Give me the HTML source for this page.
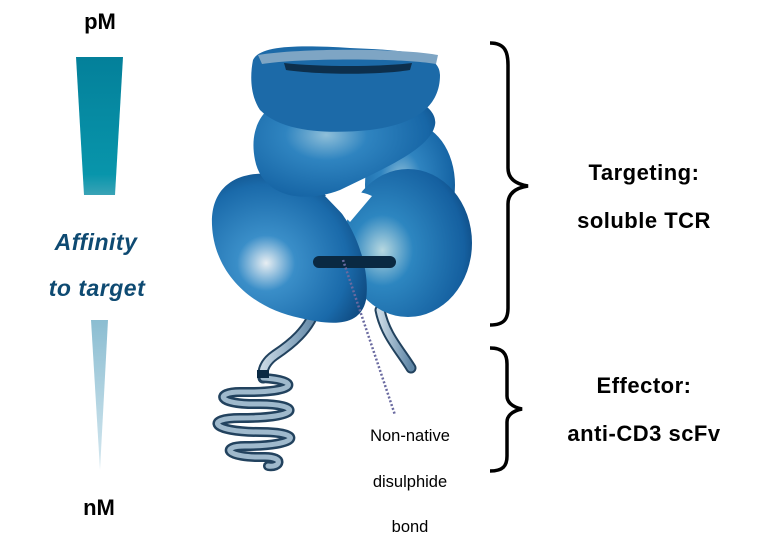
<!DOCTYPE html>
<html><head><style>
body{margin:0;background:#fff;}
svg{display:block}
text{font-family:"Liberation Sans",sans-serif}
</style></head><body>
<svg width="776" height="552" viewBox="0 0 776 552" xmlns="http://www.w3.org/2000/svg">
<defs>
<linearGradient id="w1" x1="0" y1="0" x2="0" y2="1">
<stop offset="0" stop-color="#04809a"/><stop offset="0.85" stop-color="#0895ab"/><stop offset="1" stop-color="#3aa3b6"/></linearGradient>
<linearGradient id="w2" x1="0" y1="0" x2="0" y2="1">
<stop offset="0" stop-color="#8bbdd1"/><stop offset="1" stop-color="#d5e8f0"/></linearGradient>
<radialGradient id="lob" cx="0.35" cy="0.6" r="0.75">
<stop offset="0" stop-color="#e8eef2"/><stop offset="0.25" stop-color="#3a8ec8"/><stop offset="0.7" stop-color="#1a6aaa"/><stop offset="1" stop-color="#0b3f72"/></radialGradient>
<radialGradient id="lob2" cx="0.4" cy="0.45" r="0.75">
<stop offset="0" stop-color="#8fbfd9"/><stop offset="0.3" stop-color="#2f84c0"/><stop offset="0.75" stop-color="#1766a6"/><stop offset="1" stop-color="#0b3f72"/></radialGradient>
<radialGradient id="lob3" cx="0.3" cy="0.55" r="0.8">
<stop offset="0" stop-color="#b7d8e0"/><stop offset="0.3" stop-color="#2d86c0"/><stop offset="0.8" stop-color="#1560a0"/><stop offset="1" stop-color="#0b3f72"/></radialGradient>
<linearGradient id="tube" x1="0" y1="0" x2="1" y2="0">
<stop offset="0" stop-color="#c8d8e4"/><stop offset="1" stop-color="#5f86a6"/></linearGradient>
</defs>

<text x="100" y="29" font-size="22" font-weight="bold" text-anchor="middle">pM</text>
<polygon points="76,57 123,57 115,195 84,195" fill="url(#w1)"/>
<text x="96" y="250" font-size="23" font-weight="bold" font-style="italic" fill="#0e4a72" text-anchor="middle" letter-spacing="0.5">Affinity</text>
<text x="97" y="296" font-size="23" font-weight="bold" font-style="italic" fill="#0e4a72" text-anchor="middle" letter-spacing="0.5">to target</text>
<polygon points="91,320 108,320 100,470" fill="url(#w2)"/>
<text x="99" y="515" font-size="22" font-weight="bold" text-anchor="middle">nM</text>

<path d="M317,305 C310,330 290,345 275,355 C265,362 262,370 263,378" stroke="#22425e" stroke-width="11" fill="none" stroke-linecap="round"/>
<path d="M317,305 C310,330 290,345 275,355 C265,362 262,370 263,378" stroke="url(#tube)" stroke-width="7" fill="none" stroke-linecap="round"/>
<path d="M380,310 C385,335 400,350 411,368" stroke="#22425e" stroke-width="11" fill="none" stroke-linecap="round"/>
<path d="M380,310 C385,335 400,350 411,368" stroke="url(#tube)" stroke-width="7" fill="none" stroke-linecap="round"/>
<g fill="none" stroke-linecap="round">
<path d="M263,378 C300,380 300,393 240,392 C215,392 215,405 260,404 C300,404 305,418 240,418 C205,418 210,432 260,432 C305,432 300,446 245,446 C220,446 225,458 265,457 C285,457 280,468 268,466" stroke="#22425e" stroke-width="10"/>
<path d="M263,378 C300,380 300,393 240,392 C215,392 215,405 260,404 C300,404 305,418 240,418 C205,418 210,432 260,432 C305,432 300,446 245,446 C220,446 225,458 265,457 C285,457 280,468 268,466" stroke="#9fb9cc" stroke-width="5"/>
</g>
<rect x="257" y="370" width="12" height="8" fill="#0b2a44"/>

<ellipse cx="410" cy="185" rx="45" ry="62" fill="url(#lob2)"/>
<ellipse cx="408" cy="243" rx="64" ry="74" fill="url(#lob3)"/>
<path d="M212,225 C210,175 255,165 300,180 C345,195 372,260 366,300 C360,328 330,325 300,318 C250,308 214,272 212,225 Z" fill="url(#lob)"/>
<path d="M255,160 C245,110 285,90 330,85 C380,80 440,100 435,125 C430,150 380,170 340,190 C300,205 262,195 255,160 Z" fill="url(#lob2)"/>
<path d="M253,60 C260,45 300,45 350,48 C400,50 440,52 440,75 C440,110 410,125 370,130 C320,135 280,130 260,110 C250,95 250,75 253,60 Z" fill="#1c6aa8"/>
<path d="M258,55 C300,48 400,48 438,55 L436,64 C400,58 300,58 262,64 Z" fill="#7ea5c4"/>
<path d="M284,63 C320,67 380,67 412,63 L410,70 C380,75 320,75 286,70 Z" fill="#0d2f4c"/>
<path d="M325,196 C340,190 360,190 372,196 L350,222 Z" fill="#fff"/>

<rect x="313" y="256" width="83" height="12" rx="6" fill="#0a2942"/>
<line x1="343" y1="260" x2="395" y2="415" stroke="#6a6aa0" stroke-width="2.5" stroke-dasharray="2,2"/>

<text x="410" y="441" font-size="16.5" text-anchor="middle">Non-native</text>
<text x="410" y="487" font-size="16.5" text-anchor="middle">disulphide</text>
<text x="410" y="532" font-size="16.5" text-anchor="middle">bond</text>

<path d="M490,43 C505,43 508,52 508,65 L508,168 C508,178 515,184 528,186 C515,188 508,194 508,204 L508,308 C508,318 505,325 490,325" stroke="#000" stroke-width="3.5" fill="none"/>
<path d="M490,348 C503,348 507,354 507,364 L507,396 C507,402 512,407 522,409 C512,411 507,416 507,422 L507,456 C507,466 503,471 490,471" stroke="#000" stroke-width="3.5" fill="none"/>

<g font-size="22" font-weight="bold" text-anchor="middle">
<text x="644" y="180" letter-spacing="0.5">Targeting:</text>
<text x="644" y="228" letter-spacing="0.5">soluble TCR</text>
<text x="644" y="393" letter-spacing="0.5">Effector:</text>
<text x="644" y="441" letter-spacing="0.5">anti-CD3 scFv</text>
</g>
</svg>
</body></html>
